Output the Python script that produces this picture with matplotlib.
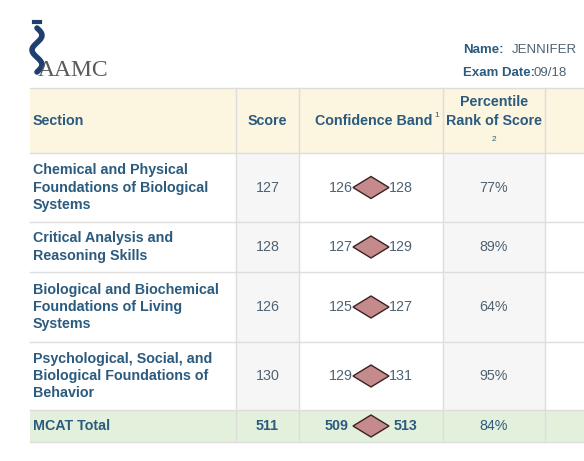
import matplotlib
matplotlib.use("Agg")
import matplotlib.pyplot as plt
from matplotlib.patches import Rectangle, Polygon
import numpy as np

sections = ["Chemical and Physical\nFoundations of Biological\nSystems",
            "Critical Analysis and\nReasoning Skills",
            "Biological and Biochemical\nFoundations of Living\nSystems",
            "Psychological, Social, and\nBiological Foundations of\nBehavior",
            "MCAT Total"]
scores = [127, 128, 126, 130, 511]
band_low = [126, 127, 125, 129, 509]
band_high = [128, 129, 127, 131, 513]
percentiles = ["77%", "89%", "64%", "95%", "84%"]
headers = ["Section", "Score", "Confidence Band", "Percentile\nRank of Score"]

W, H = 584, 461
fig = plt.figure(figsize=(W/100, H/100), dpi=100)
ax = fig.add_axes([0, 0, 1, 1])
ax.set_xlim(0, W); ax.set_ylim(H, 0); ax.axis("off")

cols = [30, 236, 299, 443, 545, 600]
rows = [88, 153, 222, 272, 342, 410, 442]
blue = "#2b5b7e"; grey_txt = "#4f6272"; line = "#dddddd"
font = "Liberation Sans"
fs = 10.3

ax.add_patch(Rectangle((cols[0], rows[0]), W, rows[1]-rows[0], fc="#fcf5df", ec="none"))
for i in range(4):
    for c in (1, 3):
        ax.add_patch(Rectangle((cols[c], rows[i+1]), cols[c+1]-cols[c], rows[i+2]-rows[i+1], fc="#f6f6f6", ec="none"))
ax.add_patch(Rectangle((cols[0], rows[5]), W, rows[6]-rows[5], fc="#e3f1dc", ec="none"))
for y in rows:
    ax.plot([cols[0], W], [y, y], color=line, lw=1)
for x in cols[1:5]:
    ax.plot([x, x], [rows[0], rows[6]], color=line, lw=1)

hy = (rows[0]+rows[1])/2
ax.text(33, hy, headers[0], color=blue, fontsize=fs, fontweight="bold", va="center", family=font)
ax.text((cols[1]+cols[2])/2, hy, headers[1], color=blue, fontsize=fs, fontweight="bold", va="center", ha="center", family=font)
ax.text(432, hy, headers[2], color=blue, fontsize=fs, fontweight="bold", va="center", ha="right", family=font)
ax.text(434, hy-5, "1", color=blue, fontsize=6, va="center", family=font)
ax.text((cols[3]+cols[4])/2, hy-9, headers[3], color=blue, fontsize=fs, fontweight="bold", va="center", ha="center", family=font, linespacing=1.5)
ax.text((cols[3]+cols[4])/2, hy+19, "2", color=blue, fontsize=6, va="center", ha="center", family=font)

for i in range(5):
    cy = (rows[i+1]+rows[i+2])/2
    bold = i == 4
    col = blue if bold else grey_txt
    fw = "bold" if bold else "normal"
    ax.text(33, cy, sections[i], color=blue, fontsize=fs, fontweight="bold", va="center", family=font, linespacing=1.3)
    ax.text((cols[1]+cols[2])/2, cy, str(scores[i]), color=col, fontsize=fs, fontweight=fw, va="center", ha="center", family=font)
    cx = (cols[2]+cols[3])/2
    dw, dh = 18, 11
    ax.add_patch(Polygon([[cx-dw, cy], [cx, cy-dh], [cx+dw, cy], [cx, cy+dh]], fc="#c58a8c", ec="#3b2222", lw=1))
    ax.text(cx-dw-(5 if bold else 0), cy, str(band_low[i]), color=col, fontsize=fs, fontweight=fw, va="center", ha="right", family=font)
    ax.text(cx+dw+(5 if bold else 0), cy, str(band_high[i]), color=col, fontsize=fs, fontweight=fw, va="center", ha="left", family=font)
    ax.text((cols[3]+cols[4])/2, cy, percentiles[i], color=col, fontsize=fs, va="center", ha="center", family=font)

ax.text(38, 81, "AAMC", color="#5a5a5a", fontsize=17, family="Liberation Serif", va="bottom")
t = np.linspace(0, 1, 30)
ax.plot(37 + 5*np.sin(t*3*np.pi), 28 + 44*t, color="#1f3f6e", lw=4, solid_capstyle="round")
ax.plot([34, 40], [22, 22], color="#1f3f6e", lw=3)
ax.text(463, 50, "Name:", color=blue, fontsize=9.5, fontweight="bold", va="center", family=font)
ax.text(512, 50, "JENNIFER", color=grey_txt, fontsize=9.5, va="center", family=font)
ax.text(463, 73, "Exam Date:", color=blue, fontsize=9.5, fontweight="bold", va="center", family=font)
ax.text(533, 73, "09/18", color=grey_txt, fontsize=9.5, va="center", family=font)

fig.savefig("out.png", dpi=100)
